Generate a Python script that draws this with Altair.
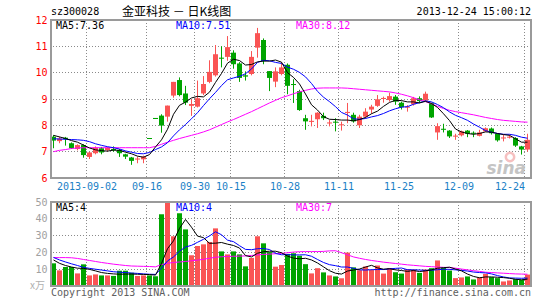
import math
import altair as alt
import pandas as pd

# ---------------- data ----------------
opens = [7.57, 7.40, 7.53, 7.32, 7.10, 7.25, 6.80, 6.94, 7.13, 7.06,
         7.10, 7.06, 6.90, 6.78, 6.70, 6.71, 7.48, 8.24, 8.37, 8.33,
         9.13, 9.72, 9.21, 8.74, 8.71, 9.21, 9.65, 9.90, 10.56, 10.60,
         10.76, 10.35, 9.90, 9.95, 10.95, 11.24, 10.06, 9.66, 9.95, 10.30,
         9.57, 9.30, 8.27, 8.13, 8.23, 8.36, 8.07, 8.12, 8.00, 8.47,
         8.40, 8.00, 8.33, 8.60, 8.74, 9.00, 8.96, 9.09, 8.86, 8.67,
         8.80, 9.03, 8.94, 8.84, 7.73, 7.84, 7.80, 7.57, 7.62, 7.80,
         7.70, 7.60, 7.77, 7.88, 7.68, 7.50, 7.53, 7.52, 7.20, 7.08]
highs = [7.63, 7.57, 7.56, 7.35, 7.28, 7.28, 6.99, 7.20, 7.18, 7.18,
         7.20, 7.10, 6.92, 6.80, 6.81, 6.85, 7.48, 8.24, 8.42, 8.75,
         9.65, 9.82, 9.50, 8.99, 9.70, 9.87, 10.47, 11.05, 11.00, 11.39,
         10.85, 10.40, 10.05, 10.82, 11.70, 11.30, 10.06, 10.20, 10.40, 10.35,
         9.75, 9.35, 8.40, 8.40, 8.50, 8.48, 8.20, 8.27, 8.14, 8.85,
         8.48, 8.40, 8.65, 8.78, 9.15, 9.09, 9.24, 9.15, 8.90, 8.77,
         9.08, 9.10, 9.28, 8.86, 8.08, 8.06, 7.82, 7.68, 7.80, 7.82,
         7.77, 7.83, 7.92, 7.92, 7.70, 7.64, 7.64, 7.55, 7.22, 7.68]
lows = [7.13, 7.32, 7.23, 7.10, 7.05, 6.77, 6.72, 6.90, 6.90, 7.02,
        7.00, 6.80, 6.72, 6.50, 6.56, 6.56, 7.48, 8.24, 7.72, 8.14,
        9.05, 9.10, 8.77, 8.36, 8.68, 9.15, 9.60, 9.85, 10.20, 10.45,
        10.15, 9.65, 9.70, 9.90, 10.57, 10.32, 9.30, 9.45, 9.90, 9.18,
        8.85, 8.55, 7.83, 7.96, 7.90, 8.20, 7.96, 7.77, 7.80, 8.08,
        8.10, 7.90, 8.25, 8.44, 8.70, 8.86, 8.90, 8.78, 8.60, 8.52,
        8.75, 8.85, 8.90, 8.28, 7.45, 7.73, 7.52, 7.45, 7.58, 7.55,
        7.55, 7.58, 7.75, 7.65, 7.38, 7.39, 7.50, 7.18, 6.89, 7.00]
closes = [7.42, 7.50, 7.48, 7.13, 7.25, 6.87, 6.97, 7.15, 6.97, 7.15,
          7.05, 6.94, 6.81, 6.65, 6.72, 6.81, 7.48, 8.24, 7.99, 8.75,
          9.65, 9.15, 8.86, 8.81, 9.03, 9.57, 10.03, 10.70, 10.53, 10.97,
          10.32, 9.80, 9.85, 10.60, 11.50, 10.44, 9.80, 10.05, 10.20, 9.50,
          9.53, 8.58, 8.15, 8.16, 8.48, 8.27, 8.10, 8.10, 8.03, 8.49,
          8.15, 8.33, 8.52, 8.71, 8.99, 9.03, 9.11, 8.90, 8.69, 8.70,
          9.03, 8.92, 9.20, 8.30, 7.97, 7.83, 7.58, 7.60, 7.77, 7.68,
          7.68, 7.73, 7.89, 7.70, 7.43, 7.52, 7.55, 7.23, 7.08, 7.45]
ma5 = [7.62, 7.56, 7.50, 7.42, 7.36, 7.25, 7.14, 7.07, 7.04, 7.02,
       7.06, 7.05, 6.98, 6.92, 6.83, 6.79, 6.89, 7.18, 7.45, 7.85,
       8.42, 8.76, 8.88, 9.04, 9.10, 9.08, 9.26, 9.63, 9.97, 10.36,
       10.51, 10.46, 10.29, 10.31, 10.41, 10.44, 10.44, 10.48, 10.40, 10.00,
       9.82, 9.57, 9.19, 8.78, 8.58, 8.33, 8.23, 8.22, 8.20, 8.20,
       8.17, 8.22, 8.30, 8.44, 8.54, 8.72, 8.87, 8.95, 8.94, 8.89,
       8.89, 8.85, 8.91, 8.83, 8.68, 8.44, 8.18, 7.86, 7.75, 7.69,
       7.66, 7.69, 7.75, 7.74, 7.69, 7.65, 7.62, 7.49, 7.36, 7.36]
ma10 = [7.49, 7.48, 7.47, 7.46, 7.45, 7.43, 7.38, 7.30, 7.24, 7.19,
        7.15, 7.10, 7.03, 6.98, 6.93, 6.92, 6.97, 7.08, 7.18, 7.34,
        7.60, 7.83, 8.03, 8.25, 8.48, 8.75, 9.01, 9.25, 9.51, 9.73,
        9.80, 9.86, 9.96, 10.14, 10.39, 10.47, 10.45, 10.39, 10.35, 10.21,
        10.13, 10.01, 9.84, 9.59, 9.29, 9.07, 8.90, 8.71, 8.49, 8.39,
        8.25, 8.23, 8.26, 8.32, 8.37, 8.45, 8.55, 8.63, 8.69, 8.71,
        8.80, 8.86, 8.93, 8.89, 8.79, 8.67, 8.51, 8.38, 8.29, 8.19,
        8.05, 7.93, 7.80, 7.74, 7.69, 7.66, 7.66, 7.62, 7.55, 7.51]
ma30 = [7.00, 7.05, 7.08, 7.12, 7.14, 7.15, 7.15, 7.15, 7.15, 7.15,
        7.15, 7.15, 7.15, 7.15, 7.15, 7.15, 7.15, 7.20, 7.28, 7.36,
        7.43, 7.50, 7.56, 7.62, 7.68, 7.75, 7.83, 7.93, 8.03, 8.13,
        8.22, 8.32, 8.42, 8.52, 8.63, 8.74, 8.85, 8.95, 9.05, 9.12,
        9.20, 9.27, 9.33, 9.38, 9.41, 9.42, 9.42, 9.42, 9.42, 9.41,
        9.39, 9.37, 9.35, 9.33, 9.31, 9.29, 9.27, 9.23, 9.18, 9.12,
        9.05, 8.97, 8.90, 8.82, 8.72, 8.64, 8.57, 8.52, 8.48, 8.44,
        8.40, 8.35, 8.30, 8.26, 8.22, 8.19, 8.17, 8.15, 8.13, 8.12]
volumes = [13.5, 9.3, 11.3, 11.3, 7.5, 12.9, 6.3, 6.9, 6.3, 6.3,
           6.0, 9.1, 9.1, 7.9, 6.0, 6.3, 6.3, 5.8, 42.7, 52.0,
           29.6, 43.3, 33.7, 18.3, 23.8, 24.8, 26.2, 34.3, 20.6, 18.8,
           20.6, 18.8, 11.7, 16.7, 29.6, 25.4, 20.2, 11.5, 12.5, 19.1,
           19.5, 18.0, 13.0, 7.5, 10.6, 8.1, 6.3, 5.7, 4.6, 19.9,
           11.1, 9.4, 11.6, 9.5, 12.2, 7.4, 10.6, 8.2, 7.4, 10.0,
           9.8, 7.8, 9.8, 10.6, 15.2, 11.0, 9.2, 4.7, 5.1, 5.7,
           3.9, 5.1, 7.2, 5.3, 4.7, 2.7, 3.3, 4.1, 3.7, 6.8]
vma5 = [15.5, 13.5, 12.2, 11.3, 10.6, 10.5, 9.9, 9.0, 8.0, 7.5,
        7.2, 7.0, 7.1, 7.1, 7.0, 6.9, 6.8, 6.5, 13.4, 22.2,
        26.9, 34.3, 39.6, 35.0, 29.7, 28.8, 25.4, 25.5, 25.9, 24.9,
        24.1, 22.6, 18.1, 17.3, 19.5, 20.4, 20.7, 20.7, 19.8, 17.8,
        16.6, 16.2, 16.5, 15.5, 13.7, 11.4, 9.1, 7.6, 7.1, 8.9,
        9.5, 10.1, 11.3, 12.3, 10.8, 10.0, 10.3, 9.6, 9.2, 8.7,
        9.2, 8.6, 9.0, 9.6, 10.6, 10.9, 11.2, 10.1, 9.0, 7.1,
        5.7, 4.9, 5.4, 5.4, 5.2, 5.0, 4.6, 4.0, 3.7, 4.1]
vma10 = [17.0, 15.5, 14.3, 13.2, 12.2, 11.1, 10.5, 10.0, 9.5, 9.0,
         8.5, 8.2, 8.0, 7.7, 7.5, 7.2, 7.0, 6.9, 10.6, 14.9,
         17.3, 20.7, 23.2, 24.2, 26.0, 27.8, 29.8, 32.3, 30.5, 27.3,
         26.4, 24.0, 21.8, 21.6, 22.2, 22.3, 21.7, 19.4, 18.6, 18.7,
         18.5, 18.5, 18.6, 17.7, 15.8, 14.0, 12.7, 12.1, 11.3, 11.3,
         10.5, 9.6, 9.5, 9.7, 9.8, 9.8, 10.2, 10.5, 10.7, 9.7,
         9.6, 9.5, 9.3, 9.4, 9.7, 10.0, 9.9, 9.6, 9.3, 8.9,
         8.3, 8.0, 7.8, 7.2, 6.2, 5.4, 4.8, 4.7, 4.6, 4.7]
vma30 = [16.9, 16.9, 16.9, 16.8, 16.4, 15.8, 15.2, 14.6, 14.0, 13.5,
         13.0, 12.6, 12.2, 11.9, 11.8, 11.7, 11.6, 11.4, 12.8, 13.5,
         14.0, 14.3, 14.6, 15.0, 15.4, 15.9, 16.5, 17.1, 17.4, 17.6,
         17.7, 17.8, 17.9, 18.2, 18.5, 18.8, 19.0, 19.2, 19.4, 19.8,
         20.2, 20.4, 20.5, 20.5, 20.5, 20.6, 20.9, 21.0, 19.8, 18.6,
         17.3, 16.5, 15.8, 15.2, 14.7, 14.2, 13.8, 13.4, 13.0, 12.6,
         12.3, 12.0, 11.7, 11.5, 11.3, 11.1, 11.0, 10.6, 10.1, 9.6,
         9.1, 8.7, 8.2, 8.0, 7.8, 7.6, 7.4, 7.2, 7.1, 7.0]

tick_pos = [6, 16, 24, 30, 39, 48, 58, 68, 79]
tick_labels = ["2013-09-02", "09-16", "09-30", "10-15", "10-28",
               "11-11", "11-25", "12-09", "12-24"]
price_ticks = [6, 7, 8, 9, 10, 11, 12]
vol_ticks = [10, 20, 30, 40, 50]
main_legend = ["MA5:7.36", "MA10:7.51", "MA30:8.12"]
vol_legend = ["MA5:4", "MA10:4", "MA30:7"]

# ---------------- styling ----------------
RED = "#fa5454"
GREEN = "#00a400"
BLUE_TXT = "#1a7fc6"
GRID = "#8a8a8a"
FRAME = "#9a9a9a"
MONO = "DejaVu Sans Mono"
CJK = "Noto Sans CJK SC"
W, H_MAIN, H_VOL = 480, 158, 84
n = len(closes)
HALF_PX = 1 / 12  # half a pixel in index units (6 px per trading day)


def snap(values, lo, hi, height):
    """Move a grid value onto the nearest pixel centre so dotted lines stay crisp."""
    out = []
    for v in values:
        p = height - (v - lo) * height / (hi - lo)
        t = math.floor(p) + 0.5
        out.append(lo + (height - t) * (hi - lo) / height)
    return out


df = pd.DataFrame({
    "i": list(range(n)), "open": opens, "high": highs, "low": lows,
    "close": closes, "vol": volumes, "ma5": ma5, "ma10": ma10, "ma30": ma30,
    "vma5": vma5, "vma10": vma10, "vma30": vma30,
})
df["x0"] = df["i"].astype(float)
df["x1"] = df["i"] + 5 / 6
df["xc"] = df["i"] + 2.5 / 6
df["dir"] = ["up" if c > o else "down" for o, c in zip(opens, closes)]
df["blo"] = [min(o, c) for o, c in zip(opens, closes)]
df["bhi"] = [max(max(o, c), min(o, c) + 0.04) for o, c in zip(opens, closes)]

ticks_df = pd.DataFrame({"pos": tick_pos, "lab": tick_labels})
ticks_df["gx"] = ticks_df["pos"] - HALF_PX
pgrid_df = pd.DataFrame({"v": snap(price_ticks[1:-1], 6, 12, H_MAIN)})
vgrid_df = pd.DataFrame({"v": snap(vol_ticks[:-1], 0, 50, H_VOL)})

color = alt.Color("dir:N", scale=alt.Scale(domain=["up", "down"], range=[RED, GREEN]), legend=None)
xscale = alt.Scale(domain=[0, n], nice=False, zero=False)
pscale = alt.Scale(domain=[6, 12], nice=False, zero=False)
vscale = alt.Scale(domain=[0, 50], nice=False, zero=True)

# one axis definition per channel, given identically to every layer so the layers merge
XAX = alt.Axis(labels=False, ticks=False, domain=False, grid=False, title=None)
YAX_P = alt.Axis(values=price_ticks, labelColor="#ff0000", labelFont=MONO, labelFontSize=10,
                 labelPadding=4, labelOverlap=False, labelFlush=False, ticks=False,
                 domain=False, grid=False, title=None)
YAX_V = alt.Axis(values=vol_ticks, labelColor="#a0a0a0", labelFont=MONO, labelFontSize=10,
                 labelPadding=4, labelOverlap=False, labelFlush=False, ticks=False,
                 domain=False, grid=False, title=None)


def text_at(txt, x, y, col, align="left", font=MONO, size=10, **kw):
    return alt.Chart(pd.DataFrame({"t": [txt]})).mark_text(
        align=align, baseline="middle", color=col, font=font, fontSize=size, **kw
    ).encode(x=alt.value(x), y=alt.value(y), text="t:N")


def vgrid():
    return alt.Chart(ticks_df).mark_rule(color=GRID, strokeWidth=1, strokeDash=[1, 2]).encode(
        x=alt.X("gx:Q", scale=xscale, axis=XAX))


def hgrid(gdf, scale, yax):
    return alt.Chart(gdf).mark_rule(color=GRID, strokeWidth=1, strokeDash=[1, 2]).encode(
        y=alt.Y("v:Q", scale=scale, axis=yax))


def frame(h):
    return alt.Chart(pd.DataFrame({"a": [0]})).mark_rect(
        fillOpacity=0, stroke=FRAME, strokeWidth=2
    ).encode(x=alt.value(0), x2=alt.value(W), y=alt.value(0), y2=alt.value(h))


base = alt.Chart(df)

wick = base.mark_rule(strokeWidth=1).encode(
    x=alt.X("xc:Q", scale=xscale, axis=XAX),
    y=alt.Y("low:Q", scale=pscale, axis=YAX_P),
    y2="high:Q", color=color)
body = base.mark_bar().encode(
    x=alt.X("x0:Q", scale=xscale, axis=XAX), x2="x1:Q",
    y=alt.Y("blo:Q", scale=pscale, axis=YAX_P), y2="bhi:Q", color=color)


def ma_line(field, col, scale, yax):
    return base.mark_line(color=col, strokeWidth=1, clip=True).encode(
        x=alt.X("xc:Q", scale=xscale, axis=XAX),
        y=alt.Y(f"{field}:Q", scale=scale, axis=yax))


xlab_mid = alt.Chart(ticks_df.iloc[:-1]).mark_text(
    align="center", baseline="middle", color=BLUE_TXT, font=MONO, fontSize=10
).encode(x=alt.X("pos:Q", scale=xscale, axis=XAX), y=alt.value(H_MAIN + 9), text="lab:N")
xlab_end = alt.Chart(ticks_df.iloc[-1:]).mark_text(
    align="right", baseline="middle", color=BLUE_TXT, font=MONO, fontSize=10
).encode(x=alt.X("pos:Q", scale=xscale, axis=XAX), y=alt.value(H_MAIN + 9), text="lab:N")

# invisible corner that fixes where the page's top-left lies relative to the plot
anchor = alt.Chart(pd.DataFrame({"a": [0]})).mark_rect(opacity=0).encode(
    x=alt.value(-50), x2=alt.value(-49), y=alt.value(-19), y2=alt.value(-18))

logo_eye = alt.Chart(pd.DataFrame({"a": [0]})).mark_point(
    shape="circle", filled=False, color="#f3a6a6", size=70, strokeWidth=2.5
).encode(x=alt.value(459), y=alt.value(137))

main = alt.layer(
    anchor,
    hgrid(pgrid_df, pscale, YAX_P), vgrid(),
    wick, body,
    ma_line("ma30", "#ff00ff", pscale, YAX_P), ma_line("ma10", "#0000ff", pscale, YAX_P),
    ma_line("ma5", "#000000", pscale, YAX_P),
    frame(H_MAIN),
    xlab_mid, xlab_end,
    text_at(main_legend[0], 5, 6, "#000000"),
    text_at(main_legend[1], 125, 6, "#0000ff"),
    text_at(main_legend[2], 245, 6, "#ff00ff"),
    text_at("sz300028", 0, -8, "#000000"),
    text_at("金亚科技 － 日K线图", 71, -8, "#000000", font=CJK, size=12),
    text_at("2013-12-24 15:00:12", W, -8, "#000000", align="right"),
    logo_eye,
    text_at("sina", 475, 149, "#c4c4c4", align="right", font="DejaVu Sans", size=17,
            fontStyle="italic", fontWeight="bold"),
).properties(width=W, height=H_MAIN)

vbar = base.mark_bar(clip=True).encode(
    x=alt.X("x0:Q", scale=xscale, axis=XAX), x2="x1:Q",
    y=alt.Y("vol:Q", scale=vscale, axis=YAX_V), y2=alt.datum(0), color=color)

vol = alt.layer(
    hgrid(vgrid_df, vscale, YAX_V), vgrid(),
    vbar,
    ma_line("vma30", "#ff00ff", vscale, YAX_V), ma_line("vma10", "#0000ff", vscale, YAX_V),
    ma_line("vma5", "#000000", vscale, YAX_V),
    frame(H_VOL),
    text_at(vol_legend[0], 5, 6, "#000000"),
    text_at(vol_legend[1], 125, 6, "#0000ff"),
    text_at(vol_legend[2], 245, 6, "#ff00ff"),
    text_at("x万", -21, 84, "#b0b0b0", font=CJK, size=10),
    text_at("Copyright 2013 SINA.COM", 0, 91, "#606060"),
    text_at("http://finance.sina.com.cn", W, 91, "#606060", align="right"),
).properties(width=W, height=H_VOL)

chart = alt.vconcat(
    main, vol, spacing=24, bounds="flush", background="white", padding=0,
).configure_view(stroke=FRAME, strokeWidth=2)

chart.save("out.html", embed_options={"renderer": "svg", "actions": False})
